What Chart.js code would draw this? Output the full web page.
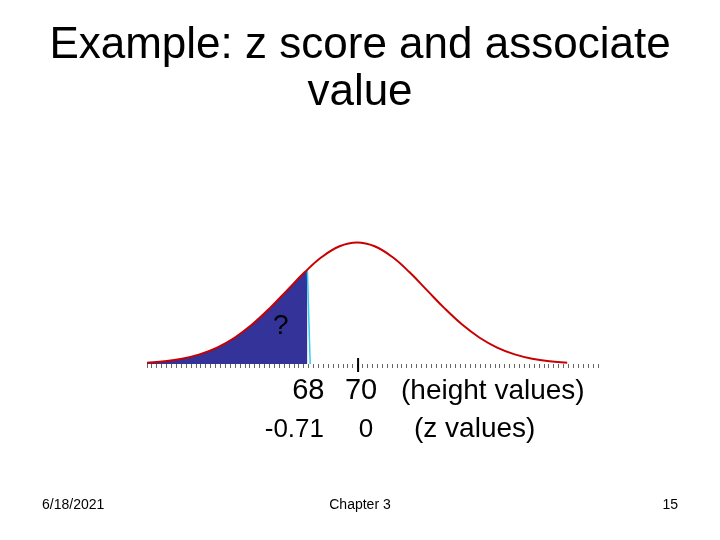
<!DOCTYPE html>
<html>
<head>
<meta charset="utf-8">
<script src="https://cdn.jsdelivr.net/npm/chart.js@4.4.1/dist/chart.umd.min.js"></script>
<style>
  html, body { margin: 0; padding: 0; background: #fff; }
  canvas { display: block; }
</style>
</head>
<body>
<canvas id="myChart" width="720" height="540"></canvas>
<script>
// z positions along the curve and the curve height
const zValues = [-3, -2.75, -2.5, -2.25, -2, -1.75, -1.5, -1.25, -1, -0.75, -0.5, -0.25,
                 0, 0.25, 0.5, 0.75, 1, 1.25, 1.5, 1.75, 2, 2.25, 2.5, 2.75, 3];
const density = [0.0044, 0.0091, 0.0175, 0.0317, 0.054, 0.0863, 0.1295, 0.1826, 0.242, 0.3011, 0.3521, 0.3867,
                 0.3989, 0.3867, 0.3521, 0.3011, 0.242, 0.1826, 0.1295, 0.0863, 0.054, 0.0317, 0.0175, 0.0091, 0.0044];

// cut point (68 inches -> z = -0.71)
const cutZ = -0.71;
const cutDensity = 0.31;
const cutBottomZ = -0.67;

const heightLabels = ['68', '70'];
const zLabels = ['-0.71', '0'];
const titleLines = ['Example: z score and associate', 'value'];
const footer = ['6/18/2021', 'Chapter 3', '15'];

const FONT = '"Liberation Sans", Arial, sans-serif';

const curve = zValues.map((z, i) => ({ x: z, y: density[i] }));
const shaded = curve.filter(p => p.x < cutZ);
shaded.push({ x: cutZ, y: cutDensity });
const edge = [{ x: cutZ, y: cutDensity }, { x: cutBottomZ, y: 0 }];

// text and the big tick at the mean
const slidePlugin = {
    id: 'slide',
    afterDraw(chart) {
        const ctx = chart.ctx;
        const xs = chart.scales.x;
        const ys = chart.scales.y;
        ctx.save();
        ctx.fillStyle = '#000';

        // title
        ctx.font = '44px ' + FONT;
        ctx.textAlign = 'center';
        ctx.textBaseline = 'alphabetic';
        ctx.fillText(titleLines[0], 360, 58);
        ctx.fillText(titleLines[1], 360, 105);

        // mean tick
        const x0 = xs.getPixelForValue(0);
        ctx.strokeStyle = '#000';
        ctx.lineWidth = 2;
        ctx.beginPath();
        ctx.moveTo(x0 + 1, ys.bottom - 6);
        ctx.lineTo(x0 + 1, ys.bottom + 8);
        ctx.stroke();

        // question mark in the shaded tail
        ctx.font = '28px ' + FONT;
        ctx.textBaseline = 'middle';
        ctx.fillText('?', xs.getPixelForValue(-1.09), ys.getPixelForValue(0.125));

        // labels under the axis
        const xCut = xs.getPixelForValue(cutZ);
        ctx.textBaseline = 'alphabetic';
        ctx.font = '29px ' + FONT;
        ctx.fillText(heightLabels[0], xCut + 1, 399);
        ctx.fillText(heightLabels[1], x0 + 4, 399);
        ctx.textAlign = 'left';
        ctx.font = '28px ' + FONT;
        ctx.fillText('(height values)', 401, 399);

        ctx.textAlign = 'center';
        ctx.font = '26px ' + FONT;
        ctx.fillText(zLabels[0], xCut - 13, 437);
        ctx.fillText(zLabels[1], x0 + 9, 437);
        ctx.textAlign = 'left';
        ctx.font = '28px ' + FONT;
        ctx.fillText('(z values)', 414, 437);

        // footer
        ctx.font = '14px ' + FONT;
        ctx.textAlign = 'left';
        ctx.fillText(footer[0], 42, 509);
        ctx.textAlign = 'center';
        ctx.fillText(footer[1], 360, 509);
        ctx.textAlign = 'right';
        ctx.fillText(footer[2], 678, 509);
        ctx.restore();
    }
};

const config = {
    type: 'line',
    data: {
        datasets: [{
            label: 'curve',
            data: curve,
            borderColor: '#c80000',
            borderWidth: 2,
            pointRadius: 0,
            tension: 0.4,
            fill: false,
            order: 0
        }, {
            label: 'edge',
            data: edge,
            borderColor: '#33ccee',
            borderWidth: 1.5,
            pointRadius: 0,
            tension: 0,
            fill: false,
            order: 1
        }, {
            label: 'shaded',
            data: shaded,
            borderWidth: 0,
            borderColor: 'rgba(0,0,0,0)',
            backgroundColor: '#333399',
            pointRadius: 0,
            tension: 0.4,
            fill: 'origin',
            order: 2
        }]
    },
    options: {
        responsive: false,
        animation: false,
        events: [],
        layout: { padding: { left: 147, right: 122, top: 227, bottom: 170 } },
        plugins: {
            legend: { display: false },
            tooltip: { enabled: false }
        },
        scales: {
            x: {
                type: 'linear',
                min: -3,
                max: 3.44,
                border: { display: false },
                grid: {
                    drawOnChartArea: false,
                    drawTicks: true,
                    tickLength: 4,
                    color: '#666',
                    lineWidth: 1
                },
                ticks: {
                    stepSize: 0.07,
                    maxTicksLimit: 1000,
                    autoSkip: false,
                    callback: () => ''
                },
                afterFit(scale) { scale.height = 6; }
            },
            y: {
                display: false,
                min: 0,
                max: 0.45
            }
        }
    },
    plugins: [slidePlugin]
};

const myChart = new Chart(document.getElementById('myChart'), config);
</script>
</body>
</html>
